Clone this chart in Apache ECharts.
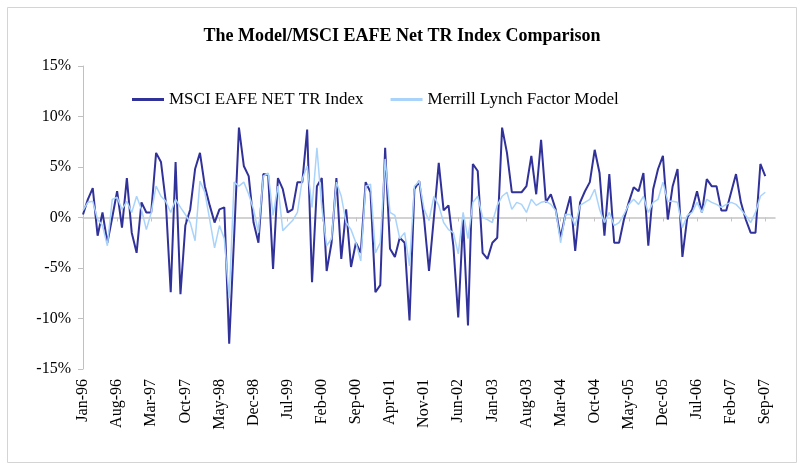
<!DOCTYPE html>
<html>
<head>
<meta charset="utf-8">
<title>The Model/MSCI EAFE Net TR Index Comparison</title>
<script src="https://cdn.jsdelivr.net/npm/echarts@6/dist/echarts.min.js"></script>
<style>
  html, body { margin: 0; padding: 0; background: #fff; }
  #chart { width: 804px; height: 470px; }
</style>
</head>
<body>
<div id="chart"></div>
<script>
// monthly returns in %, Jan-96 .. Sep-07 (141 months)
var monthNames = ['Jan', 'Feb', 'Mar', 'Apr', 'May', 'Jun', 'Jul', 'Aug', 'Sep', 'Oct', 'Nov', 'Dec'];
var firstYear = 1996, lastYear = 2007, lastMonth = 9;

var msci = [
  0.3, 1.8, 2.9, -1.8, 0.5, -2.5, 0.0, 2.6, -1.0, 3.9, -1.5, -3.5,
  1.5, 0.5, 0.5, 6.4, 5.5, 1.5, -7.4, 5.5, -7.6, -0.8, 0.8, 4.8,
  6.4, 3.1, 1.2, -0.5, 0.8, 1.0, -12.5, -2.0, 8.9, 5.1, 4.1, -0.5,
  -2.5, 4.3, 4.2, -5.1, 3.9, 2.8, 0.5, 0.8, 3.5, 3.5, 8.7, -6.4,
  3.1, 3.9, -5.3, -2.5, 3.9, -4.1, 0.8, -4.9, -2.5, -3.5, 3.5, 2.5,
  -7.4, -6.7, 6.9, -3.1, -3.9, -2.0, -2.5, -10.2, 2.8, 3.6, -0.2, -5.3,
  0.0, 5.4, 0.7, 1.2, -2.8, -9.9, -0.2, -10.7, 5.3, 4.6, -3.5, -4.1,
  -2.5, -2.0, 8.9, 6.4, 2.5, 2.5, 2.5, 3.1, 6.1, 2.3, 7.7, 1.5,
  2.3, 0.8, -2.0, 0.3, 2.1, -3.3, 1.5, 2.6, 3.5, 6.7, 4.4, -1.8,
  4.3, -2.5, -2.5, -0.2, 1.5, 3.0, 2.6, 4.4, -2.8, 2.8, 4.8, 6.1,
  -0.2, 3.1, 4.8, -3.9, 0.0, 0.8, 2.6, 0.5, 3.8, 3.1, 3.1, 0.7,
  0.7, 2.5, 4.3, 1.5, -0.2, -1.5, -1.5, 5.3, 4.1
];

var merrill = [
  0.7, 1.5, 1.6, -0.2, -0.8, -2.8, 1.8, 2.0, 0.8, 1.6, 0.5, 2.1,
  0.8, -1.2, 0.5, 3.1, 2.1, 1.6, 0.5, 1.8, 1.0, 0.3, -0.5, -2.3,
  3.6, 2.5, -0.2, -3.0, -0.8, -2.1, -8.0, 3.5, 3.1, 3.5, 2.3, 0.8,
  -1.5, 4.1, 4.4, 0.2, 3.1, -1.3, -0.8, -0.3, 0.5, 3.8, 5.1, 1.0,
  6.9, 1.0, -2.8, -2.1, 3.5, 2.1, -0.5, -1.2, -2.5, -4.3, 3.1, 3.3,
  -3.5, -2.5, 5.8, 0.5, 0.2, -2.1, -1.5, -4.8, 3.1, 3.6, 0.8, -0.3,
  2.1, 1.2, -0.5, -1.2, -1.5, -3.6, 0.5, -2.1, 1.5, 2.1, 0.0, -0.2,
  -0.5, 1.2, 2.1, 2.5, 0.8, 1.5, 1.3, 0.5, 1.8, 1.2, 1.5, 1.6,
  1.3, 0.7, -2.5, 0.3, 0.3, -0.8, 1.2, 1.5, 1.8, 2.8, 0.8, -0.5,
  0.5, -0.8, -0.5, 0.3, 1.3, 1.8, 1.3, 2.1, 0.5, 1.5, 1.8, 3.5,
  1.6, 1.6, 1.5, -1.0, 0.2, 0.5, 1.5, 0.5, 1.8, 1.5, 1.3, 1.0,
  1.3, 1.5, 1.3, 0.8, 0.2, -0.5, 0.5, 2.1, 2.5
];

var yTicks = [-15, -10, -5, 0, 5, 10, 15];

// category labels like "Jan-96"
var categories = [];
for (var y = firstYear; y <= lastYear; y++) {
  for (var m = 0; m < 12; m++) {
    if (y === lastYear && m >= lastMonth) break;
    categories.push(monthNames[m] + '-' + String(y).slice(2));
  }
}

var serif = 'Liberation Serif';
var myChart = echarts.init(document.getElementById('chart'));

var option = {
  backgroundColor: '#fff',
  animation: false,
  title: {
    text: 'The Model/MSCI EAFE Net TR Index Comparison',
    left: 'center',
    top: 22,
    textStyle: { fontFamily: serif, fontSize: 18, fontWeight: 'bold', color: '#000' }
  },
  legend: {
    left: 127,
    top: 86,
    itemWidth: 32,
    itemHeight: 3,
    itemGap: 27,
    icon: 'rect',
    textStyle: { fontFamily: serif, fontSize: 17, color: '#000' },
    data: ['MSCI EAFE NET TR Index', 'Merrill Lynch Factor Model']
  },
  graphic: [{
    type: 'rect',
    shape: { x: 7.5, y: 7.5, width: 789, height: 455 },
    style: { fill: 'none', stroke: '#d4d4d4', lineWidth: 1 },
    silent: true
  }],
  grid: { left: 83, top: 66, right: 29, bottom: 101 },
  xAxis: [{
    type: 'category',
    data: categories,
    boundaryGap: false,
    max: 142,
    axisLine: { show: false, onZero: false },
    axisTick: { show: false },
    axisLabel: {
      interval: 6,
      rotate: 90,
      margin: 10,
      fontFamily: serif,
      fontSize: 16,
      color: '#000'
    },
    splitLine: { show: false }
  }, {
    type: 'category',
    data: categories,
    boundaryGap: false,
    max: 142,
    position: 'bottom',
    axisLine: { show: true, onZero: true, onZeroAxisIndex: 0, lineStyle: { color: '#c4c4c4', width: 1.5 } },
    axisTick: { show: true, interval: 6, length: 4, lineStyle: { color: '#c4c4c4' } },
    axisLabel: { show: false },
    splitLine: { show: false }
  }],
  yAxis: {
    type: 'value',
    min: yTicks[0],
    max: yTicks[yTicks.length - 1],
    interval: 5,
    axisLine: { show: true, lineStyle: { color: '#c0c0c0' } },
    axisTick: { show: true, length: 5, lineStyle: { color: '#c0c0c0' } },
    splitLine: { show: false },
    axisLabel: {
      formatter: '{value}%',
      margin: 12,
      fontFamily: serif,
      fontSize: 16,
      color: '#000'
    }
  },
  series: [{
    name: 'MSCI EAFE NET TR Index',
    type: 'line',
    data: msci,
    showSymbol: false,
    color: '#31319a',
    lineStyle: { width: 2, color: '#31319a' }
  }, {
    name: 'Merrill Lynch Factor Model',
    type: 'line',
    data: merrill,
    showSymbol: false,
    color: '#a9d3fb',
    lineStyle: { width: 1.5, color: '#a9d3fb' }
  }]
};

option && myChart.setOption(option);
</script>
</body>
</html>
